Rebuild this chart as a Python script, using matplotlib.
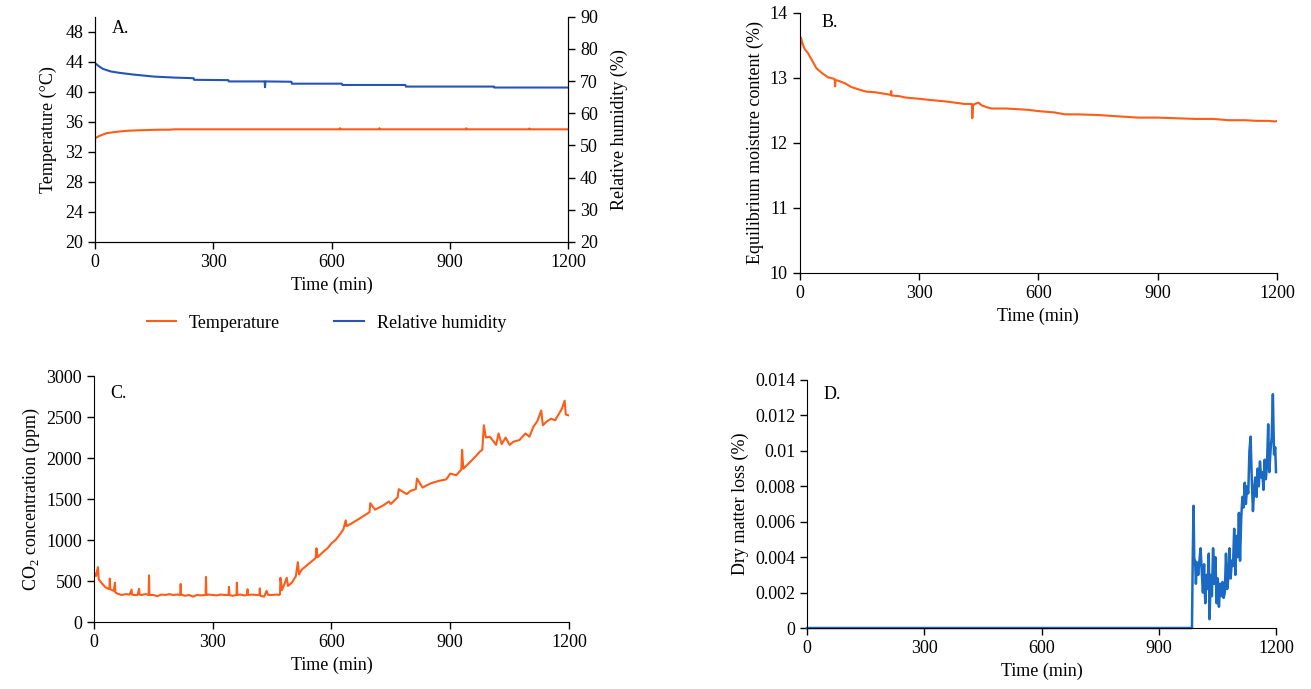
import numpy as np
import matplotlib
matplotlib.use("agg")
import matplotlib.pyplot as plt
from matplotlib.ticker import FuncFormatter

plt.rcParams["font.family"] = ["Liberation Serif", "DejaVu Serif"]
plt.rcParams["mathtext.fontset"] = "custom"
plt.rcParams["mathtext.rm"] = "Liberation Serif"
fs = 13
plt.rcParams["font.size"] = fs

orange = "#FF5C17"
blue_a = "#2554B5"
blue_d = "#1A6AC4"

# ---- A: temperature and relative humidity ----
temp_t = [0, 10, 20, 30, 45, 60, 80, 100, 130, 160, 190, 200, 400, 620, 621, 622,
          720, 721, 722, 940, 941, 942, 1100, 1101, 1102, 1200]
temp_c = [33.8, 34.1, 34.3, 34.5, 34.6, 34.7, 34.8, 34.85, 34.9, 34.95, 34.95, 35.0, 35.0, 35.0, 35.15, 35.0,
          35.0, 35.15, 35.0, 35.0, 35.15, 35.0, 35.0, 35.12, 35.0, 35.0]

rh_t = [0, 10, 20, 40, 60, 80, 100, 150, 200, 250, 251, 338, 339,
        430, 431, 432, 498, 499, 626, 627, 787, 788, 1011, 1012, 1200]
rh_pct = [75.6, 74.6, 73.8, 73.0, 72.6, 72.3, 72.0, 71.4, 71.1, 70.9, 70.4, 70.3, 69.9,
          69.9, 68.1, 69.9, 69.8, 69.2, 69.2, 68.8, 68.8, 68.3, 68.3, 68.0, 68.0]

# ---- B: equilibrium moisture content ----
emc_t = [0, 3, 6, 12, 21, 30, 42, 55, 71, 85,
         88, 89, 90, 100, 113, 130, 150, 167, 190, 210,
         229, 230, 231, 250, 265, 281, 300, 330, 365, 390,
         415, 433, 434, 436, 440, 450, 457, 470, 482, 520,
         574, 600, 640, 667, 700, 750, 800, 851, 900, 994,
         1040, 1078, 1120, 1150, 1180, 1195, 1200]
emc = [13.35, 13.62, 13.55, 13.45, 13.38, 13.28, 13.15, 13.08, 13.01, 12.99,
       12.98, 12.87, 12.97, 12.95, 12.92, 12.86, 12.82, 12.79, 12.78, 12.76,
       12.74, 12.80, 12.73, 12.72, 12.70, 12.69, 12.68, 12.66, 12.64, 12.62,
       12.60, 12.60, 12.38, 12.58, 12.60, 12.62, 12.58, 12.55, 12.53, 12.53,
       12.51, 12.49, 12.47, 12.44, 12.44, 12.43, 12.41, 12.39, 12.39, 12.37,
       12.37, 12.35, 12.35, 12.34, 12.34, 12.33, 12.34]

# ---- C: CO2 concentration ----
co2_t = [0, 5, 10, 12, 20, 30, 39, 40, 41, 50,
         53, 54, 60, 70, 80, 90, 95, 96, 100, 110,
         114, 115, 120, 130, 138, 139, 140, 150, 160, 170,
         180, 190, 200, 210, 218, 219, 220, 230, 240, 250,
         260, 270, 282, 283, 284, 290, 300, 310, 320, 330,
         340, 341, 342, 350, 360, 361, 362, 370, 380, 387,
         388, 389, 400, 410, 418, 419, 420, 430, 436, 440,
         450, 460, 468, 470, 471, 475, 480, 487, 490, 500,
         510, 515, 518, 525, 540, 550, 560, 562, 565, 580,
         590, 600, 610, 620, 630, 636, 638, 650, 660, 680,
         696, 698, 710, 730, 745, 750, 767, 770, 790, 800,
         813, 816, 830, 850, 870, 890, 900, 915, 928, 930,
         933, 950, 966, 975, 981, 985, 990, 1000, 1010, 1016,
         1022, 1030, 1040, 1050, 1060, 1075, 1090, 1100, 1110, 1120,
         1130, 1134, 1145, 1155, 1165, 1176, 1182, 1189, 1192, 1200]
co2_ppm = [610, 560, 670, 520, 470, 420, 400, 530, 400, 380,
           480, 360, 345, 330, 340, 335, 395, 335, 330, 330,
           405, 335, 330, 340, 330, 570, 330, 330, 315, 335,
           330, 340, 330, 335, 330, 465, 335, 320, 330, 310,
           330, 325, 330, 550, 330, 335, 330, 325, 335, 330,
           330, 430, 330, 320, 330, 480, 330, 335, 325, 330,
           400, 330, 335, 330, 330, 410, 320, 310, 380, 330,
           330, 335, 330, 340, 540, 390, 450, 540, 440, 480,
           560, 730, 580, 640, 700, 740, 780, 900, 790, 860,
           900, 960, 1000, 1060, 1130, 1240, 1170, 1200, 1230, 1290,
           1340, 1450, 1370, 1420, 1470, 1440, 1520, 1620, 1560, 1600,
           1620, 1750, 1640, 1690, 1720, 1740, 1810, 1790, 1860, 2100,
           1870, 1950, 2030, 2080, 2100, 2400, 2250, 2260, 2200, 2160,
           2300, 2170, 2250, 2160, 2200, 2220, 2300, 2260, 2380, 2450,
           2580, 2400, 2450, 2480, 2460, 2550, 2600, 2700, 2530, 2520]

# ---- D: dry matter loss ----
dml_t = [0, 984,
         985, 987, 989, 991, 993, 995, 998, 1001, 1004, 1007,
         1010, 1013, 1016, 1019, 1022, 1025, 1028, 1030, 1033, 1036,
         1039, 1042, 1045, 1048, 1051, 1054, 1057, 1060, 1063, 1066,
         1069, 1072, 1075, 1078, 1081, 1084, 1087, 1090, 1093, 1096,
         1099, 1102, 1105, 1108, 1111, 1114, 1117, 1120, 1123, 1126,
         1129, 1132, 1135, 1138, 1141, 1144, 1147, 1150, 1153, 1156,
         1159, 1162, 1165, 1168, 1171, 1174, 1177, 1180, 1183, 1186,
         1189, 1192, 1195, 1198, 1200]
dml = [0, 0,
       0.0, 0.0040, 0.0069, 0.0036, 0.0038, 0.0025, 0.0037, 0.0030, 0.0038, 0.0045,
       0.0032, 0.0020, 0.0036, 0.0014, 0.0030, 0.0022, 0.0042, 0.0005, 0.0030, 0.0018,
       0.0045, 0.0025, 0.0040, 0.0014, 0.0028, 0.0012, 0.0025, 0.0018, 0.0026, 0.0017,
       0.0020, 0.0042, 0.0022, 0.0028, 0.0045, 0.0028, 0.0038, 0.0035, 0.0056, 0.0030,
       0.0052, 0.0040, 0.0065, 0.0038, 0.0062, 0.0074, 0.0068, 0.0082, 0.0070, 0.0080,
       0.0076, 0.0100, 0.0108, 0.0084, 0.0066, 0.0078, 0.0085, 0.0074, 0.0090, 0.0080,
       0.0094, 0.0085, 0.0088, 0.0078, 0.0095, 0.0084, 0.0092, 0.0115, 0.0088, 0.0100,
       0.0108, 0.0132, 0.0098, 0.0102, 0.0088]

time_ticks = [0, 300, 600, 900, 1200]


def style_axes(ax, right=False):
    ax.spines["top"].set_visible(False)
    ax.spines["right"].set_visible(right)
    ax.tick_params(direction="out", length=5, width=1, labelsize=fs)
    ax.set_xlim(0, 1200)
    ax.set_xticks(time_ticks)
    ax.set_xlabel("Time (min)", fontsize=fs)


fig = plt.figure(figsize=(13.11, 6.89), dpi=100)

# A
axA = fig.add_axes([0.0725, 0.649, 0.361, 0.3266])
style_axes(axA, right=True)
axA.plot(temp_t, temp_c, color=orange, lw=1.5, label="Temperature")
axA.set_ylim(20, 50)
axA.set_yticks(np.arange(20, 49, 4))
axA.set_ylabel("Temperature (°C)", fontsize=fs, labelpad=6)
axA2 = axA.twinx()
axA2.spines["top"].set_visible(False)
axA2.plot(rh_t, rh_pct, color=blue_a, lw=1.5, label="Relative humidity")
axA2.set_ylim(20, 90)
axA2.set_yticks(np.arange(20, 91, 10))
axA2.tick_params(direction="out", length=5, width=1, labelsize=fs)
axA2.set_ylabel("Relative humidity (%)", fontsize=fs, labelpad=9)
axA.text(0.035, 0.95, "A.", transform=axA.transAxes, va="center", fontsize=fs)
handles = axA.get_lines() + axA2.get_lines()
fig.legend(handles, [h.get_label() for h in handles], loc="center",
           bbox_to_anchor=(0.249, 0.531), ncol=2, frameon=False, fontsize=fs,
           handlelength=1.65, handletextpad=0.7, columnspacing=3.0)

# B
axB = fig.add_axes([0.610, 0.6038, 0.364, 0.3774])
style_axes(axB)
axB.plot(emc_t, emc, color=orange, lw=1.5)
axB.set_ylim(10, 14)
axB.set_yticks([10, 11, 12, 13, 14])
axB.set_ylabel("Equilibrium moisture content (%)", fontsize=fs)
axB.text(0.046, 0.965, "B.", transform=axB.transAxes, va="center", fontsize=fs)

# C
axC = fig.add_axes([0.0717, 0.0972, 0.3623, 0.357])
style_axes(axC)
axC.plot(co2_t, co2_ppm, color=orange, lw=1.5)
axC.set_ylim(0, 3000)
axC.set_yticks(np.arange(0, 3001, 500))
axC.set_ylabel(r"CO$_\mathregular{2}$ concentration (ppm)", fontsize=fs, labelpad=3)
axC.text(0.035, 0.93, "C.", transform=axC.transAxes, va="center", fontsize=fs)

# D
axD = fig.add_axes([0.6156, 0.0885, 0.3577, 0.36])
style_axes(axD)
axD.plot(dml_t, dml, color=blue_d, lw=1.8, clip_on=False)
axD.set_ylim(0, 0.014)
axD.set_yticks(np.arange(0, 0.0141, 0.002))
axD.yaxis.set_major_formatter(FuncFormatter(lambda v, p: f"{round(v, 4):g}"))
axD.set_ylabel("Dry matter loss (%)", fontsize=fs)
axD.text(0.035, 0.94, "D.", transform=axD.transAxes, va="center", fontsize=fs)

fig.savefig("out.png", dpi=100)
